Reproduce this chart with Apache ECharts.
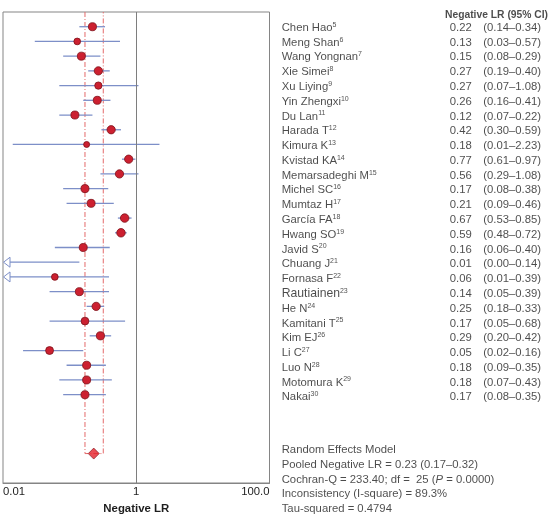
<!DOCTYPE html>
<html><head><meta charset="utf-8">
<script src="https://cdn.jsdelivr.net/npm/echarts@6/dist/echarts.min.js"></script>
<style>html,body{margin:0;padding:0;background:#fff}#c{width:550px;height:519px}</style>
</head><body><div id="c"></div>
<script>
// ---------------- data ----------------
const studies = ['Chen Hao','Meng Shan','Wang Yongnan','Xie Simei','Xu Liying','Yin Zhengxi','Du Lan','Harada T','Kimura K','Kvistad KA','Memarsadeghi M','Michel SC','Mumtaz H','García FA','Hwang SO','Javid S','Chuang J','Fornasa F','Rautiainen','He N','Kamitani T','Kim EJ','Li C','Luo N','Motomura K','Nakai'];
const refs = [5,6,7,8,9,10,11,12,13,14,15,16,17,18,19,20,21,22,23,24,25,26,27,28,29,30];
const estimate = [0.22,0.13,0.15,0.27,0.27,0.26,0.12,0.42,0.18,0.77,0.56,0.17,0.21,0.67,0.59,0.16,0.006,0.06,0.14,0.25,0.17,0.29,0.05,0.18,0.18,0.17];
const lower = [0.14,0.03,0.08,0.19,0.07,0.16,0.07,0.30,0.014,0.61,0.29,0.08,0.09,0.53,0.48,0.06,0.002,0.006,0.05,0.18,0.05,0.20,0.02,0.09,0.07,0.08];
const upper = [0.34,0.57,0.29,0.40,1.08,0.41,0.22,0.59,2.23,0.97,1.08,0.38,0.46,0.85,0.72,0.40,0.14,0.39,0.39,0.33,0.68,0.42,0.16,0.35,0.43,0.35];
const studyWeight = [4.2,3.1,4.2,4.4,3.6,4.2,4.2,4.4,2.5,4.4,4.4,4.2,4.2,4.6,4.6,4.2,1.5,3.1,4.2,4.4,4.0,4.3,4.1,4.2,4.2,4.2];
const pooledEstimate = 0.23, pooledLower = 0.17, pooledUpper = 0.32;
const xTickLabels = ['0.01','1','100.0'];
const summaryLines = [
  'Random Effects Model',
  'Pooled Negative LR = 0.23 (0.17–0.32)',
  'Cochran-Q = 233.40; df =  25 ({i|P} = 0.0000)',
  'Inconsistency (I-square) = 89.3%',
  'Tau-squared = 0.4794'
];
// --------------------------------------

const FONT = "'Liberation Sans', Arial, Helvetica, sans-serif";
const TXT = '#1e1e1e';
const X_MIN = 0.01, X_MAX = 100;
const pooledRow = studies.length + 3;
const ciColor = '#7d8fc8';
const dotFill = '#cc2030', dotStroke = '#7c1018';

const chart = echarts.init(document.getElementById('c'));

const ciData = studies.map((s, i) => [lower[i], i, upper[i], estimate[i], studyWeight[i]]);

const nameData = studies.map((s, i) => ({ value: [11.7, i], nm: s, rf: refs[i] }));
const estData = studies.map((s, i) => ({ value: [201.7, i], t: estimate[i].toFixed(2) }));
const ciTxtData = studies.map((s, i) => ({ value: [213.3, i], t: '(' + lower[i].toFixed(2) + '–' + upper[i].toFixed(2) + ')' }));
const summaryData = summaryLines.map((t, k) => ({ value: [11.7, 28.62 + k], t }));

const labelRich = {
  n: { fontFamily: FONT, fontSize: 11.3, color: TXT, lineHeight: 13 },
  big: { fontFamily: FONT, fontSize: 12.2, color: TXT, lineHeight: 13 },
  s: { fontFamily: FONT, fontSize: 7, color: TXT, lineHeight: 9, verticalAlign: 'top' },
  i: { fontFamily: FONT, fontSize: 11.3, color: TXT, fontStyle: 'italic' }
};

const option = {
  animation: false,
  grid: [
    { left: 0.5, top: 12, width: 269, height: 473, show: true, borderColor: '#858585', borderWidth: 1, backgroundColor: '#fff' },
    { left: 270, top: 12, width: 280, height: 473, show: false }
  ],
  xAxis: [
    {
      type: 'log', logBase: 10, min: X_MIN, max: X_MAX, gridIndex: 0,
      axisLine: { show: true, onZero: false, lineStyle: { color: '#858585', width: 1 } },
      axisTick: { show: false }, splitLine: { show: false }, minorTick: { show: false },
      axisLabel: {
        fontFamily: FONT, fontSize: 11.3, color: TXT, margin: 3,
        alignMinLabel: 'left', alignMaxLabel: 'right',
        formatter: v => {
          const e = Math.round(Math.log10(v));
          return e === -2 ? xTickLabels[0] : e === 0 ? xTickLabels[1] : e === 2 ? xTickLabels[2] : '';
        }
      },
      name: 'Negative LR', nameLocation: 'middle', nameGap: 20,
      nameTextStyle: { fontFamily: FONT, fontSize: 11.4, fontWeight: 'bold', color: TXT, verticalAlign: 'top' }
    },
    { type: 'value', min: 0, max: 280, gridIndex: 1, show: false }
  ],
  yAxis: [
    { type: 'value', min: -1, max: 31, inverse: true, gridIndex: 0, show: false },
    { type: 'value', min: -1, max: 31, inverse: true, gridIndex: 1, show: false }
  ],
  series: [
    {
      type: 'line', xAxisIndex: 0, yAxisIndex: 0, silent: true, z: 2,
      data: [[pooledLower, -1], [pooledLower, pooledRow], [pooledUpper, pooledRow], [pooledUpper, -1]],
      symbol: 'none',
      lineStyle: { color: '#e46a6a', width: 1, type: [5, 2, 1, 2] },
      markLine: {
        silent: true, symbol: 'none', label: { show: false },
        lineStyle: { color: '#7e7e7e', width: 1, type: 'solid' },
        data: [{ xAxis: 1 }]
      }
    },
    {
      type: 'custom', xAxisIndex: 0, yAxisIndex: 0, z: 3,
      encode: { x: [0, 2, 3], y: 1 },
      data: ciData,
      renderItem: (params, api) => {
        const lo = api.value(0), row = api.value(1), hi = api.value(2), est = api.value(3), w = api.value(4);
        const left = params.coordSys.x;
        const hiP = api.coord([hi, row]);
        const y = hiP[1];
        const children = [];
        let x0;
        if (lo < X_MIN) {
          x0 = left + 7;
          children.push({
            type: 'polygon',
            shape: { points: [[left + 0.5, y], [x0, y - 5], [x0, y + 5]] },
            style: { fill: '#fff', stroke: ciColor, lineWidth: 1 }
          });
        } else {
          x0 = api.coord([lo, row])[0];
        }
        children.push({
          type: 'line', shape: { x1: x0, y1: y, x2: hiP[0], y2: y },
          style: { stroke: ciColor, lineWidth: 1.3 }
        });
        if (est >= X_MIN) {
          const c = api.coord([est, row]);
          const r = (3 + 1.2 * w) / 2;
          children.push({
            type: 'circle', shape: { cx: c[0], cy: c[1], r },
            style: { fill: dotFill, stroke: dotStroke, lineWidth: 0.8 }
          });
        }
        return { type: 'group', children };
      }
    },
    {
      type: 'scatter', xAxisIndex: 0, yAxisIndex: 0, z: 4, silent: true,
      data: [[pooledEstimate, pooledRow]],
      symbol: 'diamond', symbolSize: [11, 11],
      itemStyle: { color: '#e3202a', borderColor: '#7c1018', borderWidth: 0.8 }
    },
    // text columns
    {
      type: 'scatter', xAxisIndex: 1, yAxisIndex: 1, symbolSize: 0, silent: true, clip: false,
      data: nameData,
      label: {
        show: true, position: 'inside', align: 'left', verticalAlign: 'middle', offset: [0, 1],
        formatter: p => '{' + (p.data.nm === 'Rautiainen' ? 'big' : 'n') + '|' + p.data.nm + '}{s|' + p.data.rf + '}',
        rich: labelRich
      }
    },
    {
      type: 'scatter', xAxisIndex: 1, yAxisIndex: 1, symbolSize: 0, silent: true, clip: false,
      data: estData,
      label: { show: true, position: 'inside', align: 'right', verticalAlign: 'middle', offset: [0, 1],
        fontFamily: FONT, fontSize: 11.3, color: TXT, formatter: p => p.data.t }
    },
    {
      type: 'scatter', xAxisIndex: 1, yAxisIndex: 1, symbolSize: 0, silent: true, clip: false,
      data: ciTxtData,
      label: { show: true, position: 'inside', align: 'left', verticalAlign: 'middle', offset: [0, 1],
        fontFamily: FONT, fontSize: 11.3, color: TXT, formatter: p => p.data.t }
    },
    {
      type: 'scatter', xAxisIndex: 1, yAxisIndex: 1, symbolSize: 0, silent: true, clip: false,
      data: [{ value: [278, -0.8], t: 'Negative LR (95% CI)' }],
      label: { show: true, position: 'inside', align: 'right', verticalAlign: 'middle',
        fontFamily: FONT, fontSize: 10.3, fontWeight: 'bold', color: TXT, formatter: p => p.data.t }
    },
    {
      type: 'scatter', xAxisIndex: 1, yAxisIndex: 1, symbolSize: 0, silent: true, clip: false,
      data: summaryData,
      label: { show: true, position: 'inside', align: 'left', verticalAlign: 'middle',
        fontFamily: FONT, fontSize: 11.3, color: TXT, formatter: p => '{n|' + p.data.t.replace(/\{i\|P\}/, '}{i|P}{n|') + '}',
        rich: labelRich }
    }
  ]
};
chart.setOption(option);
</script>
</body></html>
